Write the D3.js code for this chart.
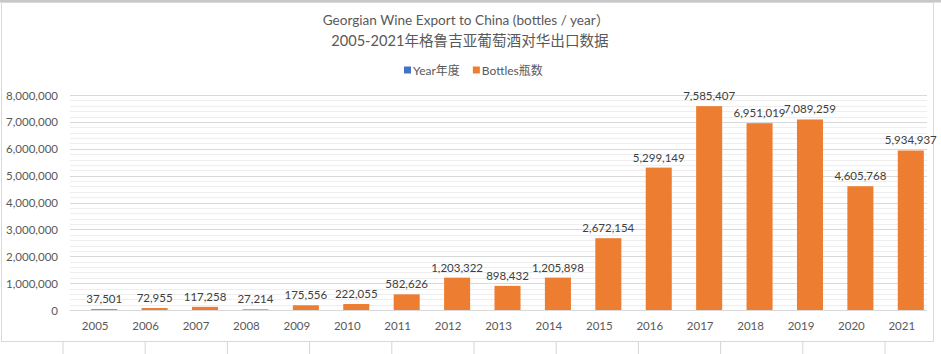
<!DOCTYPE html>
<html>
<head>
<meta charset="utf-8">
<script src="https://cdn.jsdelivr.net/npm/d3@7"></script>
<style>
  body { margin: 0; background: #fff; }
  text { font-family: Lato, "Noto Sans CJK SC", sans-serif; fill: #595959; }
</style>
</head>
<body>
<div id="chart"></div>
<script>
const width = 941;
const height = 354;

// data
var years = ["2005", "2006", "2007", "2008", "2009", "2010", "2011", "2012", "2013",
  "2014", "2015", "2016", "2017", "2018", "2019", "2020", "2021"];
var bottles = [37501, 72955, 117258, 27214, 175556, 222055, 582626, 1203322, 898432,
  1205898, 2672154, 5299149, 7585407, 6951019, 7089259, 4605768, 5934937];
var series = ["Year年度", "Bottles瓶数"];
var colors = ["#4472C4", "#ED7D31"];
var titleLines = ["Georgian Wine Export to China (bottles / year）", "2005-2021年格鲁吉亚葡萄酒对华出口数据"];

var svg = d3.select("#chart").append("svg")
  .attr("width", width).attr("height", height);

// spreadsheet cells around the chart
var cellXs = d3.range(63, width, 82.2);
svg.append("rect").attr("x", 0).attr("y", 0).attr("width", width).attr("height", 2.5)
  .attr("fill", "#c8c8c8");
svg.selectAll("line.cell").data(cellXs).enter().append("line")
  .attr("class", "cell")
  .attr("x1", (d) => d).attr("x2", (d) => d)
  .attr("y1", 342).attr("y2", height)
  .attr("stroke", "#d6d6d6");

// chart frame
svg.append("rect")
  .attr("x", 1.5).attr("y", 2.5).attr("width", 932).attr("height", 339)
  .attr("fill", "#fff").attr("stroke", "#d9d9d9");

// scales
var x = d3.scaleBand().domain(years).range([70, 927]);
var bw = x.bandwidth();
var x1 = d3.scaleBand().domain(series).range([-0.096 * bw, 0.937 * bw]);
var y = d3.scaleLinear().domain([0, 8000000]).range([310, 95]);

// gridlines
svg.append("g").selectAll("line").data(y.ticks(40)).enter().append("line")
  .attr("x1", 70).attr("x2", 927)
  .attr("y1", (d) => Math.round(y(d)) + 0.5).attr("y2", (d) => Math.round(y(d)) + 0.5)
  .attr("stroke", (d) => d % 1000000 === 0 ? "#d9d9d9" : "#eeeeee");

// axes
var yAxis = svg.append("g")
  .attr("transform", "translate(70,0)")
  .call(d3.axisLeft(y).ticks(8).tickFormat(d3.format(",")).tickSize(0).tickPadding(12));
yAxis.select(".domain").remove();
yAxis.selectAll("text").style("font-size", "11.5px").attr("dy", "0.35em");

var xAxis = svg.append("g")
  .attr("transform", "translate(0,310)")
  .call(d3.axisBottom(x).tickSize(0).tickPadding(12));
xAxis.select(".domain").remove();
xAxis.selectAll("text").style("font-size", "11.5px");

// bars
svg.append("g").selectAll("rect").data(bottles).enter().append("rect")
  .attr("x", (d, i) => x(years[i]) + x1("Bottles瓶数"))
  .attr("width", x1.bandwidth())
  .attr("y", (d) => y(d))
  .attr("height", (d) => y(0) - y(d))
  .attr("fill", colors[1]);

// data labels
svg.append("g").selectAll("text").data(bottles).enter().append("text")
  .attr("x", (d, i) => x(years[i]) + x1("Bottles瓶数") + x1.bandwidth() / 2)
  .attr("y", (d) => y(d) - 6)
  .attr("text-anchor", "middle")
  .style("font-size", "11.5px")
  .style("fill", "#404040")
  .text((d) => d3.format(",")(d));

// title
svg.append("text").attr("x", 466).attr("y", 25).attr("text-anchor", "middle")
  .style("font-size", "13.6px").text(titleLines[0]);
svg.append("text").attr("x", 470).attr("y", 46).attr("text-anchor", "middle")
  .style("font-size", "14.6px").text(titleLines[1]);

// legend
var legend = svg.append("g");
var lx = 404;
series.forEach((s, i) => {
  legend.append("rect").attr("x", lx).attr("y", 66.5).attr("width", 7).attr("height", 7)
    .attr("fill", colors[i]);
  var t = legend.append("text").attr("x", lx + 9).attr("y", 74.5)
    .style("font-size", "12px").text(s);
  lx += 9 + t.node().getComputedTextLength() + 13;
});
</script>
</body>
</html>
